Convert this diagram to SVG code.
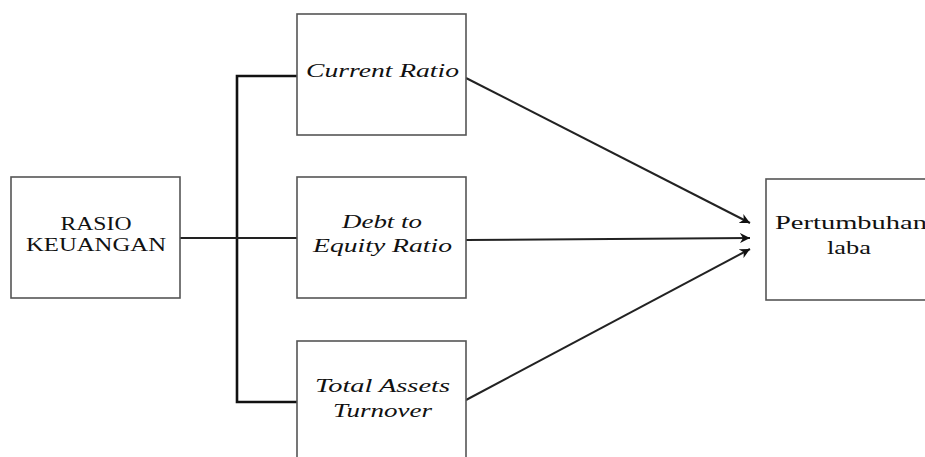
<svg xmlns="http://www.w3.org/2000/svg" width="925" height="457" viewBox="0 0 925 457">
<style>
.box{fill:#fff;stroke:#555;stroke-width:1.6}
.t{font-family:"Liberation Serif","Times New Roman",serif;font-size:18px;fill:#111;text-anchor:middle}
.i{font-style:italic}
.bus{fill:none;stroke:#111;stroke-width:2.6}
.ln{fill:none;stroke:#222;stroke-width:2}
.ar{fill:none;stroke:#222;stroke-width:2;marker-end:url(#ah)}
</style>
<defs>
<marker id="ah" markerWidth="12" markerHeight="10" refX="10" refY="5" orient="auto" markerUnits="userSpaceOnUse">
<path d="M0,0 L10,5 L0,10 L3,5 Z" fill="#111"/>
</marker>
</defs>
<rect width="925" height="457" fill="#fff"/>
<g id="connectors">
<path class="bus" d="M297,76 H237 V402 H297"/>
<path class="ln" d="M180,238 H297"/>
<path class="ar" d="M466,78 L750,223"/>
<path class="ar" d="M466,240 L750,238"/>
<path class="ar" d="M466,400 L750,249"/>
</g>
<g id="rasio">
<rect class="box" x="11" y="177" width="169" height="121"/>
<text class="t" x="96" y="230" textLength="71" lengthAdjust="spacingAndGlyphs">RASIO</text>
<text class="t" x="96" y="251" textLength="140" lengthAdjust="spacingAndGlyphs">KEUANGAN</text>
</g>
<g id="current">
<rect class="box" x="297" y="14" width="169" height="121"/>
<text class="t i" x="382.5" y="77" textLength="153" lengthAdjust="spacingAndGlyphs">Current Ratio</text>
</g>
<g id="debt">
<rect class="box" x="297" y="177" width="169" height="121"/>
<text class="t i" x="382" y="228" textLength="80" lengthAdjust="spacingAndGlyphs">Debt to</text>
<text class="t i" x="382.5" y="252" textLength="139" lengthAdjust="spacingAndGlyphs">Equity Ratio</text>
</g>
<g id="total">
<rect class="box" x="297" y="341" width="169" height="125"/>
<text class="t i" x="382.5" y="392" textLength="135" lengthAdjust="spacingAndGlyphs">Total Assets</text>
<text class="t i" x="382.5" y="417" textLength="99" lengthAdjust="spacingAndGlyphs">Turnover</text>
</g>
<g id="laba">
<rect class="box" x="766" y="179" width="170" height="121"/>
<text class="t" x="851" y="229" textLength="152" lengthAdjust="spacingAndGlyphs">Pertumbuhan</text>
<text class="t" x="849" y="254" textLength="44" lengthAdjust="spacingAndGlyphs">laba</text>
</g>
</svg>
